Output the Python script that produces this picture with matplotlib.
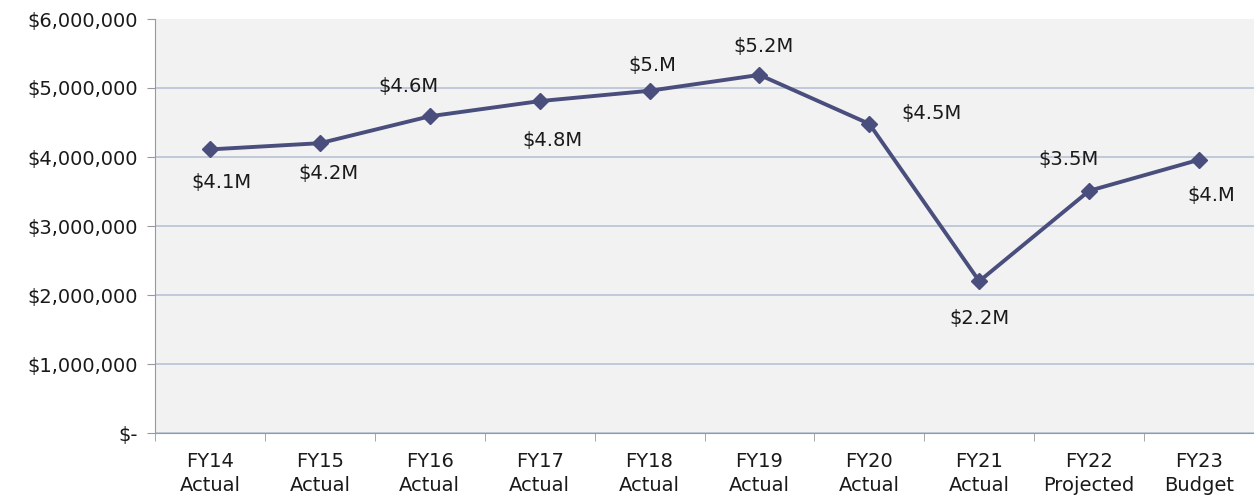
import matplotlib.pyplot as plt
from matplotlib.ticker import FuncFormatter

categories = ["FY14\nActual", "FY15\nActual", "FY16\nActual", "FY17\nActual", "FY18\nActual",
              "FY19\nActual", "FY20\nActual", "FY21\nActual", "FY22\nProjected", "FY23\nBudget"]
values = [4110000, 4200000, 4590000, 4810000, 4960000, 5190000, 4480000, 2200000, 3510000, 3960000]
labels = ["$4.1M", "$4.2M", "$4.6M", "$4.8M", "$5.M", "$5.2M", "$4.5M", "$2.2M", "$3.5M", "$4.M"]
# label offsets in pixels relative to each point
offsets = [(11, -33), (9, -30), (-21, 30), (13, -39), (3, 25), (4, 28), (62, 10), (0, -37), (-21, 31), (12, -36)]

plt.rcParams['font.family'] = ['DejaVu Sans']

fig = plt.figure(figsize=(12.54, 4.98), dpi=100)
ax = fig.add_axes([155 / 1254, 1 - 433 / 498, 1099 / 1254, 414 / 498])
ax.set_facecolor('#F2F2F2')

x = list(range(len(categories)))
ax.plot(x, values, color='#4A4E7D', lw=2.8, marker='D', ms=8.5, zorder=3)

for xi, v, lab, off in zip(x, values, labels, offsets):
    ax.annotate(lab, (xi, v), xytext=off, textcoords='offset pixels',
                ha='center', va='center', fontsize=14, color='#1a1a1a')

ax.set_xlim(-0.5, len(categories) - 0.5)
ax.set_ylim(0, 6000000)
ax.set_yticks(range(0, 6000001, 1000000))
ax.yaxis.set_major_formatter(FuncFormatter(lambda v, p: "$-" if v == 0 else f"${v:,.0f}"))
ax.grid(axis='y', color='#B8C2D4', lw=1.2)
ax.set_axisbelow(True)
ax.yaxis.get_gridlines()[-1].set_visible(False)

ax.set_xticks(x)
ax.set_xticklabels(categories, linespacing=1.3)
ax.set_xticks([i - 0.5 for i in range(len(categories) + 1)], minor=True)
ax.tick_params(axis='x', which='major', length=0, pad=14, labelsize=14)
ax.tick_params(axis='x', which='minor', length=6, color='#999999')
ax.tick_params(axis='y', length=6, color='#999999', labelsize=14, pad=6, labelcolor='#1a1a1a')
ax.tick_params(axis='x', labelcolor='#1a1a1a')

for s in ['top', 'right']:
    ax.spines[s].set_visible(False)
ax.spines['left'].set_color('#999999')
ax.spines['bottom'].set_color('#999999')

fig.savefig('out.png', dpi=100)
